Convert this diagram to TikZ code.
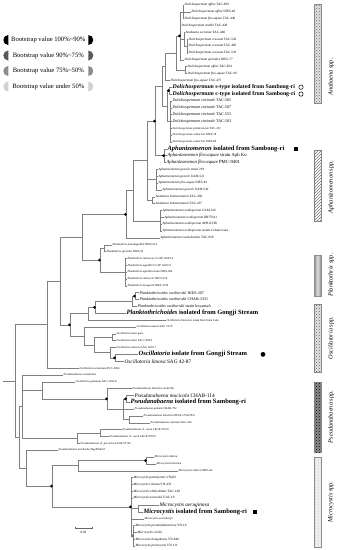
\documentclass[tikz,border=0pt]{standalone}
\usepackage{fontspec}
\setmainfont{Liberation Serif}
\usetikzlibrary{patterns}
\tikzset{
  br/.style={draw=black!50, line width=0.5pt},
  leaflab/.style={anchor=west, inner sep=0.4pt, text=black},
  fs/.style={leaflab, font=\fontsize{3.3}{3.6}\selectfont},
  ft/.style={leaflab, font=\fontsize{2.9}{3.2}\selectfont},
  fm/.style={leaflab, font=\fontsize{4}{4.3}\selectfont},
  fmm/.style={leaflab, font=\fontsize{4.7}{5}\selectfont},
  fL/.style={leaflab, font=\fontsize{5.3}{5.6}\selectfont},
  fb/.style={leaflab, font=\fontsize{6.5}{6.8}\selectfont\bfseries},
  fbb/.style={leaflab, font=\fontsize{5.8}{6.1}\selectfont\bfseries},
  barbox/.style={draw=black!45, line width=0.4pt},
  barlab/.style={rotate=90, font=\fontsize{6.3}{6.6}\selectfont, inner sep=0},
  leglab/.style={font=\fontsize{6.6}{7}\selectfont, inner sep=0},
}
\newcommand{\leafn}[4]{\coordinate (t#1) at (#2,{5+(#1-1)*6.85}); \node[#3] (l#1) at (t#1) {#4};}
\newcommand{\kidsof}[2]{\foreach \k in {#2}{\draw[br] (#1) |- (\k);}}
\newcommand{\bsm}[2][black]{\fill[#1] (#2) ++(-0.5,0) circle (1.5pt);}
\newcommand{\legrow}[4]{%
  \fill[#3] (8.3,{#2-5}) arc[start angle=90,end angle=270,radius=5pt] -- cycle;
  \fill[#3] (88.3,{#2-5}) arc[start angle=90,end angle=-90,radius=5pt] -- cycle;
  \node[leglab] (#1) at (48.3,#2) {#4};}
\begin{document}
\begin{tikzpicture}[x=1pt,y=-1pt]
\useasboundingbox (0,0) rectangle (339,550);
\fill[white] (0,0) rectangle (339,550);

% legend
\legrow{leg1}{40}{black}{Bootstrap value 100\%\textasciitilde 90\%}
\legrow{leg2}{55.5}{black!65}{Bootstrap value 90\%\textasciitilde 75\%}
\legrow{leg3}{71}{black!45}{Bootstrap value 75\%\textasciitilde 50\%}
\legrow{leg4}{86.5}{black!18}{Bootstrap value under 50\%}

% leaves
\leafn{1}{184}{fs}{\textit{Dolichospermum affine} TAC-839}
\leafn{2}{191}{fs}{\textit{Dolichospermum affine} NIES-40}
\leafn{3}{184}{fs}{\textit{Dolichospermum flos-aquae} TAC-446}
\leafn{4}{181}{fs}{\textit{Dolichospermum smithii} TAC-428}
\leafn{5}{185}{fs}{\textit{Anabaena sceratiae} TAC-448}
\leafn{6}{188}{fs}{\textit{Dolichospermum crassum} TAC-520}
\leafn{7}{188}{fs}{\textit{Dolichospermum crassum} TAC-485}
\leafn{8}{188}{fs}{\textit{Dolichospermum crassum} TAC-529}
\leafn{9}{184}{fs}{\textit{Dolichospermum spiroides} NIES-77}
\leafn{10}{187}{fs}{\textit{Dolichospermum affine} TAC-854}
\leafn{11}{187}{fs}{\textit{Dolichospermum flos-aquae} TAC-99}
\leafn{12}{170}{fs}{\textit{Dolichospermum flos-aquae} TAC-475}
\leafn{13}{172}{fbb}{\textit{Dolichospermum} s-type isolated from Sambong-ri}
\leafn{14}{172}{fbb}{\textit{Dolichospermum} c-type isolated from Sambong-ri}
\leafn{15}{172}{fm}{\textit{Dolichospermum circinale} TAC-585}
\leafn{16}{172}{fm}{\textit{Dolichospermum circinale} TAC-507}
\leafn{17}{172}{fm}{\textit{Dolichospermum circinale} TAC-553}
\leafn{18}{172}{fm}{\textit{Dolichospermum circinale} TAC-503}
\leafn{19}{172}{ft}{\textit{Dolichospermum planktonicum} TAC-472}
\leafn{20}{172}{ft}{\textit{Dolichospermum solitarium} NIES-78}
\leafn{21}{172}{ft}{\textit{Dolichospermum solitarium} NIES-80}
\leafn{22}{167}{fb}{\textit{Aphanizomenon} isolated from Sambong-ri}
\leafn{23}{167}{fmm}{\textit{Aphanizomenon flos-aquae} strain Aph Ku}
\leafn{24}{166}{fmm}{\textit{Aphanizomenon flos-aquae} PMC-9401}
\leafn{25}{158}{fs}{\textit{Aphanizomenon gracile} strain 219}
\leafn{26}{158}{fs}{\textit{Aphanizomenon gracile} UAM-521}
\leafn{27}{158}{fs}{\textit{Aphanizomenon flos-aquae} NIES-81}
\leafn{28}{162}{fs}{\textit{Aphanizomenon gracile} UAM-542}
\leafn{29}{155}{fs}{\textit{Anabaena lemmermannii} TAC-438}
\leafn{30}{155}{fs}{\textit{Anabaena lemmermannii} TAC-437}
\leafn{31}{162}{fs}{\textit{Aphanizomenon ovalisporum} UAM-316}
\leafn{32}{164}{fs}{\textit{Aphanizomenon ovalisporum} DR7T612}
\leafn{33}{162}{fs}{\textit{Aphanizomenon ovalisporum} APH-033B}
\leafn{34}{162}{fs}{\textit{Aphanizomenon ovalisporum} isolate Cebaki Lake}
\leafn{35}{160}{fs}{\textit{Aphanizomenon issatschenkoi} TAC-039}
\leafn{36}{112}{ft}{\textit{Planktothrix pseudagardhii} NIES-914}
\leafn{37}{106}{ft}{\textit{Planktothrix spiroides} NIES-45}
\leafn{38}{127}{ft}{\textit{Planktothrix rubescens} CCAP 1459/14}
\leafn{39}{127}{ft}{\textit{Planktothrix agardhii} CCAP 1459/11}
\leafn{40}{127}{ft}{\textit{Planktothrix agardhii} strain NIES-204}
\leafn{41}{127}{ft}{\textit{Planktothrix rubescens} NIVS-610}
\leafn{42}{127}{ft}{\textit{Planktothrix mougeotii} NIES-3736}
\leafn{43}{139}{fm}{\textit{Planktothricoides raciborskii} NIES-207}
\leafn{44}{139}{fm}{\textit{Planktothricoides raciborskii} CHAB-3331}
\leafn{45}{137}{fm}{\textit{Planktothricoides raciborskii} strain koyamaA}
\leafn{46}{126}{fb}{\textit{Planktothrichoides} isolated from Gongji Stream}
\leafn{47}{166}{ft}{\textit{Oscillatoria limnetica} strain from Solar Lake}
\leafn{48}{136}{ft}{\textit{Oscillatoria sancta} SAG 74.79}
\leafn{49}{116}{ft}{\textit{Oscillatoria lutea} gene}
\leafn{50}{116}{ft}{\textit{Oscillatoria lutea} SAG 1459/3}
\leafn{51}{116}{ft}{\textit{Oscillatoria amoena} SAG 1459-7}
\leafn{52}{138}{fb}{\textit{Oscillatoria} isolate from Gongji Stream}
\leafn{53}{124}{fL}{\textit{Oscillatoria limosa} SAG 42-87}
\leafn{54}{79}{ft}{\textit{Oscillatoria acuminata} PCC-6304}
\leafn{55}{63}{ft}{\textit{Pseudanabaena constantiae}}
\leafn{56}{75}{ft}{\textit{Oscillatoria geminata} SAG 1459-8}
\leafn{57}{132}{ft}{\textit{Pseudanabaena limnetica} strain PG}
\leafn{58}{134}{fL}{\textit{Pseudanabaena mucicola} CHAB-114}
\leafn{59}{130}{fb}{\textit{Pseudanabaena} isolated from Sambong-ri}
\leafn{60}{134}{ft}{\textit{Pseudanabaena galeata} CHAB-752}
\leafn{61}{143}{ft}{\textit{Pseudanabaena limnetica} NIVA-CYA276/6}
\leafn{62}{150}{ft}{\textit{Pseudanabaena catenata} SAG-254}
\leafn{63}{122}{ft}{\textit{Pseudanabaena} cf. \textit{cuera} LEGE 07160}
\leafn{64}{109}{ft}{\textit{Pseudanabaena} cf. \textit{cuera} LEGE 07169}
\leafn{65}{80}{ft}{\textit{Pseudanabaena} cf. \textit{persicina} LEGE 07163}
\leafn{66}{58}{ft}{\textit{Pseudanabaena lonchoides} NgoP5dn22}
\leafn{67}{154}{ft}{\textit{Microcystis elabens}}
\leafn{68}{156}{ft}{\textit{Microcystis holsatica}}
\leafn{69}{178}{ft}{\textit{Microcystis elabens} NIES-42}
\leafn{70}{133}{fs}{\textit{Microcystis panniformis} VN425}
\leafn{71}{133}{fs}{\textit{Microcystis robusta} VN-432}
\leafn{72}{133}{fs}{\textit{Microcystis ichthyoblabe} TAC-140}
\leafn{73}{133}{fs}{\textit{Microcystis novacekii} UAC-19}
\leafn{74}{159}{fL}{\textit{Microcystis aeruginosa}}
\leafn{75}{143}{fb}{\textit{Microcystis} isolated from Sambong-ri}
\leafn{76}{144}{ft}{\textit{Microcystis wesenbergii}}
\leafn{77}{135}{fs}{\textit{Microcystis pseudofilamentosa} VN-16}
\leafn{78}{137}{fs}{\textit{Microcystis viridis}}
\leafn{79}{135}{fs}{\textit{Microcystis bengalensis} VN-846}
\leafn{80}{135}{fs}{\textit{Microcystis protocystis} VN-111}

% internal nodes
\coordinate (c1) at (183,11.85);
\coordinate (c2) at (187,46.1);
\coordinate (c3) at (184,39.25);
\coordinate (c4) at (180,35.8);
\coordinate (c5) at (185,70.08);
\coordinate (c6) at (176,52.94);
\coordinate (c7) at (165,66.65);
\coordinate (d1) at (169,90.63);
\coordinate (d2) at (170,121.45);
\coordinate (d3) at (167,106.04);
\coordinate (e1) at (162,86.35);
\coordinate (f1) at (164,155.7);
\coordinate (P) at (155,121.03);
\coordinate (h1) at (156,179.68);
\coordinate (i1) at (152,200.23);
\coordinate (Q) at (147,160.63);
\coordinate (S) at (160,220.78);
\coordinate (R) at (133,190.7);
\coordinate (T) at (126,214.3);
\coordinate (W) at (104,248.18);
\coordinate (X) at (125,272.15);
\coordinate (V) at (100,260.16);
\coordinate (U) at (82,237.23);
\coordinate (AA) at (135,296.13);
\coordinate (AB) at (132,301.26);
\coordinate (AC) at (95,307.26);
\coordinate (AD) at (88,313.68);
\coordinate (AG) at (112,337.23);
\coordinate (AE) at (115,357.78);
\coordinate (AF) at (110,352.64);
\coordinate (AH) at (94,344.93);
\coordinate (AI) at (84,335.94);
\coordinate (AJ) at (70,324.81);
\coordinate (AK) at (60,281.02);
\coordinate (Y) at (47,324.54);
\coordinate (PA) at (126,398.88);
\coordinate (PC) at (129,419.43);
\coordinate (PB) at (123,409.15);
\coordinate (PD) at (107,398.88);
\coordinate (PE) at (42,390.31);
\coordinate (PG) at (100,433.13);
\coordinate (PH) at (77,438.26);
\coordinate (PF) at (22,406.58);
\coordinate (MC) at (146,460.53);
\coordinate (MD) at (78,465.66);
\coordinate (MG) at (138,508.48);
\coordinate (MH) at (133,535.88);
\coordinate (MF) at (131,506.76);
\coordinate (ME) at (52,486.21);
\coordinate (MA) at (26,468.23);
\coordinate (R1) at (19,437.4);
\coordinate (R0) at (15,380.97);
\coordinate (root) at (3,380.97);

% branches
\kidsof{c1}{t1,t2,t3}
\kidsof{c2}{t6,t7,t8}
\kidsof{c3}{t5,c2}
\kidsof{c4}{c1,t4,c3,t9}
\kidsof{c5}{t10,t11}
\kidsof{c6}{c4,c5}
\kidsof{c7}{c6,t12}
\kidsof{d1}{t13,t14}
\kidsof{d2}{t15,t16,t17,t18,t19,t20,t21}
\kidsof{d3}{d1,d2}
\kidsof{e1}{c7,d3}
\kidsof{f1}{t22,t23,t24}
\kidsof{P}{e1,f1}
\kidsof{h1}{t25,t26,t27,t28}
\kidsof{i1}{t29,t30}
\kidsof{Q}{P,h1,i1}
\kidsof{S}{t31,t32,t33,t34}
\kidsof{R}{Q,S}
\kidsof{T}{R,t35}
\kidsof{W}{t36,t37}
\kidsof{X}{t38,t39,t40,t41,t42}
\kidsof{V}{W,X}
\kidsof{U}{T,V}
\kidsof{AA}{t43,t44}
\kidsof{AB}{AA,t45}
\kidsof{AC}{AB,t46}
\kidsof{AD}{AC,t47}
\kidsof{AG}{t49,t50}
\kidsof{AE}{t52,t53}
\kidsof{AF}{t51,AE}
\kidsof{AH}{AG,AF}
\kidsof{AI}{t48,AH}
\kidsof{AJ}{AD,AI}
\kidsof{AK}{U,AJ}
\kidsof{Y}{AK,t54}
\kidsof{PA}{t58,t59}
\kidsof{PC}{t61,t62}
\kidsof{PB}{PA,t60,PC}
\kidsof{PD}{t57,PB}
\kidsof{PE}{t56,PD}
\kidsof{PG}{t63,t64}
\kidsof{PH}{PG,t65}
\kidsof{PF}{t55,PE,PH}
\kidsof{MC}{t67,t68}
\kidsof{MD}{MC,t69}
\kidsof{MG}{t74,t75}
\kidsof{MH}{t77,t78,t79,t80}
\kidsof{MF}{t70,t71,t72,t73,MG,t76,MH}
\kidsof{ME}{MD,MF}
\kidsof{MA}{t66,ME}
\kidsof{R1}{PF,MA}
\kidsof{R0}{Y,R1}
\draw[br] (root) -- (R0);

% bootstrap markers
\bsm{c4} \bsm{d1} \bsm{f1} \bsm{P} \bsm{T} \bsm{V} \bsm{AA} \bsm{AC}
\bsm{AJ} \bsm{AE} \bsm{PA} \bsm{PD} \bsm{MC} \bsm{ME} \bsm{MF} \bsm[black!55]{MH}

% isolate symbols
\node[circle, draw=black, line width=0.5pt, minimum size=4.4pt, inner sep=0] (s13) at (301,87.2) {};
\node[circle, draw=black, line width=0.5pt, minimum size=4.4pt, inner sep=0] (s14) at (301,94.05) {};
\node[fill=black, minimum size=4.2pt, inner sep=0] (q22) at (296,148.85) {};
\node[circle, fill=black, minimum size=4.8pt, inner sep=0] (o52) at (263,354.35) {};
\node[fill=black, minimum size=4.5pt, inner sep=0] (q75) at (255,511.9) {};

% scale bar
\coordinate (sb1) at (75,528);
\coordinate (sb2) at (92,528);
\draw[black!60, line width=0.5pt] (sb1) -- (sb2);
\draw[black!60, line width=0.5pt] (sb1) ++(0,-1.2) -- ++(0,2.4);
\draw[black!60, line width=0.5pt] (sb2) ++(0,-1.2) -- ++(0,2.4);
\node[font=\fontsize{3.3}{3.5}\selectfont, inner sep=0] (sbl) at (83.5,532.5) {0.02};

% group bars
\draw[barbox, fill=black!12, postaction={pattern=crosshatch dots, pattern color=black!55}] (314,4) rectangle (321,103);
\node[barlab] (gA) at (331,77) {\textit{Anabaena} spp.};
\draw[barbox, fill=white, postaction={pattern=north east lines, pattern color=black!55}] (314,150) rectangle (321,221);
\node[barlab] (gB) at (331,187) {\textit{Aphanizomenon} spp.};
\draw[barbox, left color=black!45, right color=black!45, middle color=black!12] (314,255) rectangle (321,296);
\node[barlab] (gC) at (331,275) {\textit{Planktothrix} spp.};
\draw[barbox, fill=black!10, postaction={pattern=crosshatch dots, pattern color=black!65}] (314,304) rectangle (321,372);
\node[barlab] (gD) at (331,338) {\textit{Oscillatoria} spp.};
\draw[barbox, fill=black!45, postaction={pattern=crosshatch dots, pattern color=black}] (314,382) rectangle (321,452);
\node[barlab] (gE) at (331,417) {\textit{Pseudanabaena} spp.};
\draw[barbox, fill=black!6, postaction={pattern=dots, pattern color=black!40}] (314,457) rectangle (321,547);
\node[barlab] (gF) at (331,502) {\textit{Microcystis} spp.};
\end{tikzpicture}
\end{document}
